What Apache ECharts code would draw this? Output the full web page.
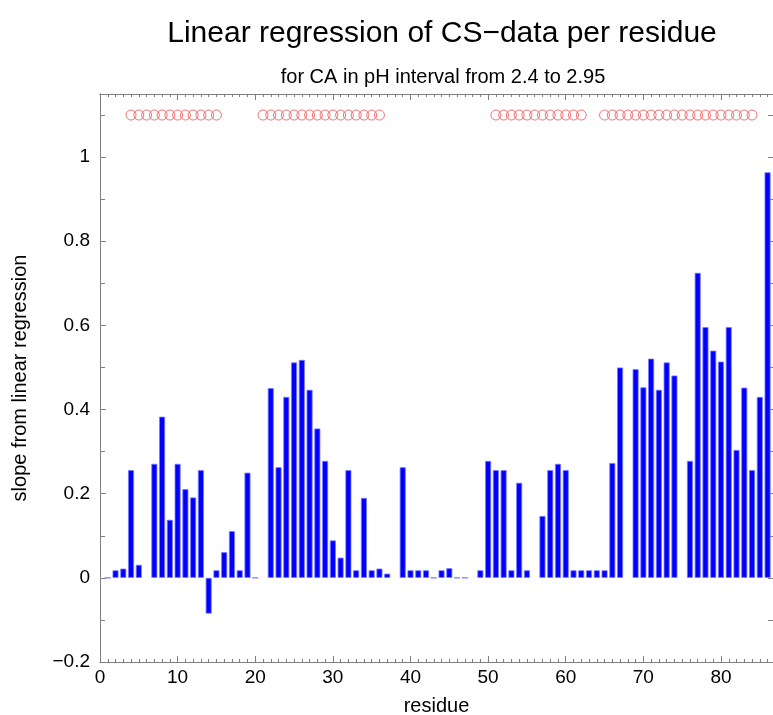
<!DOCTYPE html>
<html>
<head>
<meta charset="utf-8">
<script src="https://cdn.jsdelivr.net/npm/echarts@6/dist/echarts.min.js"></script>
<style>
  html, body { margin: 0; padding: 0; background: #fff; }
  #chart { width: 773px; height: 715px; }
</style>
</head>
<body>
<div id="chart"></div>
<script>
// slope per residue, null = no value
var residues = [
  1, 2, 3, 4, 5, 6, 7, 8, 9, 10, 11, 12, 13, 14, 15, 16, 17, 18, 19, 20,
  21, 22, 23, 24, 25, 26, 27, 28, 29, 30, 31, 32, 33, 34, 35, 36, 37, 38, 39, 40,
  41, 42, 43, 44, 45, 46, 47, 48, 49, 50, 51, 52, 53, 54, 55, 56, 57, 58, 59, 60,
  61, 62, 63, 64, 65, 66, 67, 68, 69, 70, 71, 72, 73, 74, 75, 76, 77, 78, 79, 80,
  81, 82, 83, 84, 85, 86
];
var slopes = [
  0, 0.018, 0.022, 0.256, 0.031, null, 0.271, 0.383, 0.138, 0.271,
  0.211, 0.191, 0.256, -0.085, 0.018, 0.061, 0.111, 0.018, 0.250, 0,
  null, 0.451, 0.263, 0.430, 0.512, 0.518, 0.447, 0.355, 0.278, 0.089,
  0.048, 0.256, 0.018, 0.190, 0.018, 0.022, 0.010, null, 0.263, 0.018,
  0.018, 0.018, 0, 0.018, 0.023, 0, 0, null, 0.018, 0.278,
  0.256, 0.256, 0.018, 0.226, 0.018, null, 0.147, 0.256, 0.271, 0.256,
  0.018, 0.018, 0.018, 0.018, 0.018, 0.273, 0.500, null, 0.496, 0.453,
  0.521, 0.447, 0.512, 0.481, null, 0.278, 0.725, 0.596, 0.540, 0.514,
  0.596, 0.304, 0.452, 0.256, 0.430, 0.964
];
// residues marked with circles along the top
var markedResidues = [
  4, 5, 6, 7, 8, 9, 10, 11, 12, 13, 14, 15,
  21, 22, 23, 24, 25, 26, 27, 28, 29, 30, 31, 32, 33, 34, 35, 36,
  51, 52, 53, 54, 55, 56, 57, 58, 59, 60, 61, 62,
  65, 66, 67, 68, 69, 70, 71, 72, 73, 74, 75, 76, 77, 78, 79, 80, 81, 82, 83, 84
];
var markLevel = 1.1;
var xTicks = [0, 10, 20, 30, 40, 50, 60, 70, 80];
var yTicks = [-0.2, 0, 0.2, 0.4, 0.6, 0.8, 1];

var font = 'Liberation Sans, Arial, sans-serif';
var gray = '#808080';

var barData = [];
residues.forEach(function (r, i) {
  if (slopes[i] !== null) barData.push([r, slopes[i]]);
});
var markData = markedResidues.map(function (r) { return [r, markLevel]; });

function xAx(pos, step, len, labels) {
  return {
    type: 'value', position: pos, min: 0, max: 86.7, interval: step,
    axisLine: { show: true, onZero: false, lineStyle: { color: gray, width: 1 } },
    axisTick: { show: true, inside: true, length: len, lineStyle: { color: gray } },
    axisLabel: {
      show: labels, fontSize: 19, color: '#000', fontFamily: font, margin: 6,
      showMaxLabel: false,
      formatter: function (v) { return xTicks.indexOf(v) >= 0 ? String(v) : ''; }
    },
    splitLine: { show: false }
  };
}
function yAx(pos, step, len, labels) {
  return {
    type: 'value', position: pos, min: -0.2, max: 1.15, interval: step,
    axisLine: { show: true, onZero: false, lineStyle: { color: gray, width: 1 } },
    axisTick: { show: true, inside: true, length: len, lineStyle: { color: gray } },
    axisLabel: {
      show: labels, fontSize: 19, color: '#000', fontFamily: font, margin: 10,
      showMaxLabel: false,
      formatter: function (v) {
        var r = Math.round(v * 10) / 10;
        if (yTicks.indexOf(r) < 0) return '';
        return r < 0 ? '\u2212' + Math.abs(r) : String(r);
      }
    },
    splitLine: { show: false }
  };
}

var xMain = xAx('bottom', 10, 6, true);
xMain.name = 'residue';
xMain.nameLocation = 'middle';
xMain.nameGap = 34;
xMain.nameTextStyle = { fontSize: 20, color: '#000', fontFamily: font };

var yMain = yAx('left', 0.2, 6, true);
yMain.name = 'slope from linear regression';
yMain.nameLocation = 'middle';
yMain.nameGap = 70;
yMain.nameTextStyle = { fontSize: 20, color: '#000', fontFamily: font };

var chart = echarts.init(document.getElementById('chart'), null, { renderer: 'canvas' });
chart.setOption({
  backgroundColor: '#fff',
  animation: false,
  title: [
    {
      text: 'Linear regression of CS\u2212data per residue',
      left: 437, top: 14, textAlign: 'center',
      textStyle: { fontSize: 30, fontWeight: 'normal', color: '#000', fontFamily: font }
    },
    {
      text: 'for CA in pH interval from 2.4 to 2.95',
      left: 438, top: 62, textAlign: 'center',
      textStyle: { fontSize: 20, fontWeight: 'normal', color: '#000', fontFamily: font }
    }
  ],
  grid: { left: 100, right: 0, top: 94, bottom: 53, containLabel: false, outerBoundsMode: 'none' },
  xAxis: [
    xMain,
    xAx('bottom', 1, 3, false),
    xAx('top', 10, 6, false),
    xAx('top', 1, 3, false)
  ],
  yAxis: [
    yMain,
    yAx('left', 0.1, 5, false),
    yAx('right', 0.1, 5, false)
  ],
  series: [
    {
      type: 'bar',
      xAxisIndex: 0, yAxisIndex: 0,
      data: barData,
      barWidth: 6,
      itemStyle: { color: '#0000ff', borderColor: '#7a7aff', borderWidth: 0.8 }
    },
    {
      type: 'scatter',
      xAxisIndex: 0, yAxisIndex: 0,
      data: markData,
      symbol: 'circle',
      symbolSize: 10,
      itemStyle: { color: 'rgba(0,0,0,0)', borderColor: '#f05050', borderWidth: 1 }
    }
  ]
});
</script>
</body>
</html>
